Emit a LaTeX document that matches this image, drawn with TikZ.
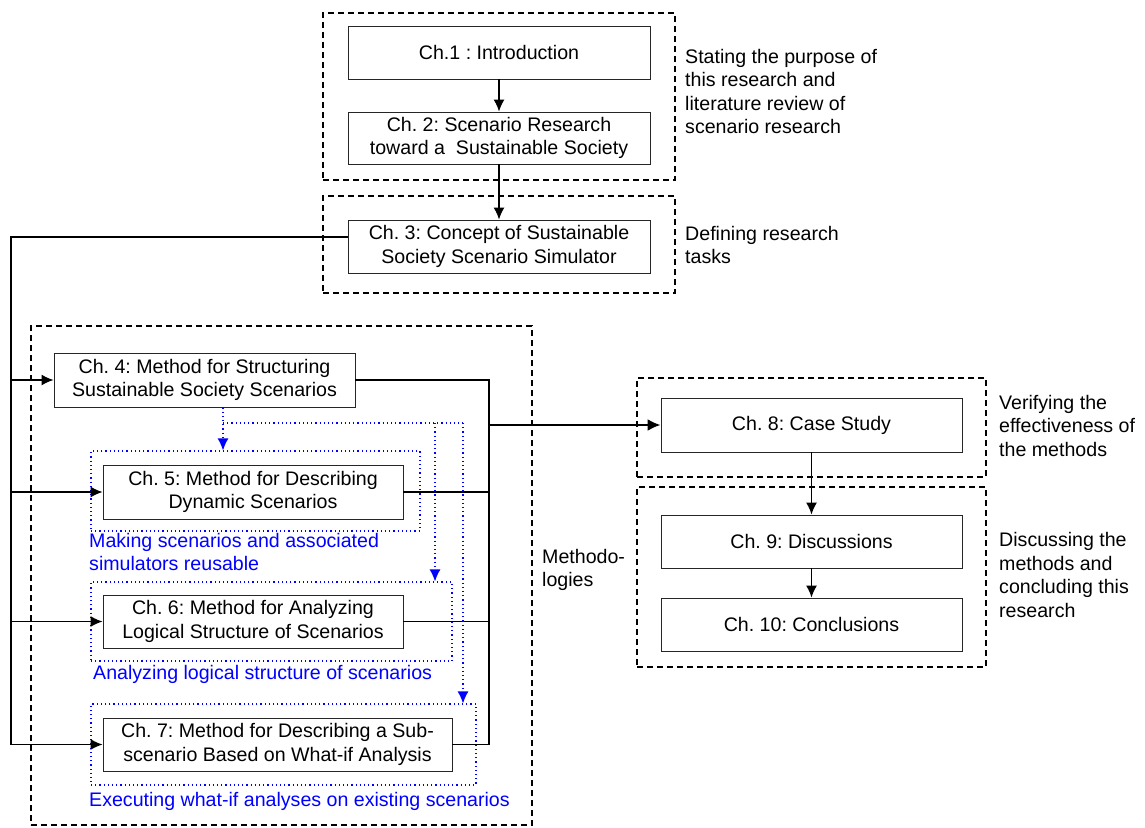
\documentclass[tikz,border=0pt]{standalone}
\usepackage{fontspec}
\setmainfont{Liberation Sans}
\usepackage{tikz}
\usetikzlibrary{arrows.meta,calc}
\frenchspacing
\tikzset{chapter/.style={draw=black!85, line width=0.8pt, minimum width=302pt, minimum height=53pt, align=center, inner sep=2pt}}
\tikzset{group/.style={draw, line width=1.3pt, dash pattern=on 6pt off 4pt, inner sep=0pt}}
\tikzset{reusebox/.style={draw=blue, line width=1.2pt, dash pattern=on 1.2pt off 3pt, inner sep=0pt}}
\tikzset{note/.style={align=left, inner sep=0pt, anchor=west}}
\tikzset{bluenote/.style={note, text=blue}}
\tikzset{edge/.style={line width=1.6pt}}
\tikzset{arc/.style={edge, -{Latex[length=12pt, width=11pt]}}}
\tikzset{fatarc/.style={line width=2.4pt, -{Latex[length=13pt, width=12pt]}}}
\tikzset{reuse/.style={blue, line width=1.2pt, dash pattern=on 1.2pt off 3pt}}
\tikzset{reusearc/.style={reuse, -{Latex[length=12pt, width=11pt]}}}

\begin{document}
\begin{tikzpicture}[x=1pt, y=-1pt, font=\fontsize{19.6}{23.5}\selectfont]
%chapter structure of the thesis: background, methodologies, verification
\useasboundingbox (0,0) rectangle (1145,827);
\node (g1) at (499,96.5)[group, minimum width=352pt, minimum height=167pt]{};
\node (g2) at (499,244.5)[group, minimum width=352pt, minimum height=97pt]{};
\node (g3) at (281.5,575.5)[group, minimum width=501pt, minimum height=499pt]{};
\node (g4) at (811.5,427.5)[group, minimum width=349pt, minimum height=99pt]{};
\node (g5) at (811.5,577)[group, minimum width=349pt, minimum height=180pt]{};
\node (d5) at (255.5,491)[reusebox, minimum width=329pt, minimum height=80pt]{};
\node (d6) at (271.5,621.5)[reusebox, minimum width=361pt, minimum height=79pt]{};
\node (d7) at (283.5,744.5)[reusebox, minimum width=385pt, minimum height=81pt]{};

\node (ch1) at (499,52.5)[chapter]{Ch.1 : Introduction};
\node (ch2) at (499,138)[chapter, minimum height=52pt]{Ch. 2: Scenario Research\\toward a~ Sustainable Society};
\node (ch3) at (499,246.5)[chapter]{Ch. 3: Concept of Sustainable\\Society Scenario Simulator};
\node (ch4) at (204.5,380)[chapter, minimum width=301pt, minimum height=54pt]{Ch. 4: Method for Structuring\\Sustainable Society Scenarios};
\node (ch5) at (253,492)[chapter, minimum width=300pt, minimum height=54pt]{Ch. 5: Method for Describing\\Dynamic Scenarios};
\node (ch6) at (253,621.5)[chapter, minimum width=300pt]{Ch. 6: Method for Analyzing\\Logical Structure of Scenarios};
\node (ch7) at (277.5,744.5)[chapter, minimum width=349pt]{Ch. 7: Method for Describing a Sub-\\scenario Based on What-if Analysis};
\node (ch8) at (811.5,425)[chapter, minimum width=301pt, minimum height=54pt]{Ch. 8: Case Study};
\node (ch9) at (811.5,541.5)[chapter, minimum width=301pt]{Ch. 9: Discussions};
\node (ch10) at (811.5,624.5)[chapter, minimum width=301pt]{Ch. 10: Conclusions};

\node (n1) at (685,91.5)[note]{Stating the purpose of\\this research and\\literature review of\\scenario research};
\node (n2) at (685,245)[note]{Defining research\\tasks};
\node (n3) at (542,570)[note]{Methodo-\\logies};
\node (n4) at (999,425.5)[note]{Verifying the\\effectiveness of\\the methods};
\node (n5) at (999,575)[note]{Discussing the\\methods and\\concluding this\\research};
\node (b5) at (89,552)[bluenote]{Making scenarios and associated\\simulators reusable};
\node (b6) at (93,674)[bluenote]{Analyzing logical structure of scenarios};
\node (b7) at (89,801)[bluenote]{Executing what-if analyses on existing scenarios};

\draw[arc] (ch1)--(ch2);
\draw[arc] (ch2)--(ch3);
\draw[arc] (ch8)--(ch9);
\draw[arc] (ch9)--(ch10);

\coordinate (lbus) at (11,237);
\draw[edge] (ch3.west |- lbus)--(lbus)--(lbus |- ch7.west);
\draw[arc] (lbus |- ch4.west)--(ch4.west);
\draw[arc] (lbus |- ch5.west)--(ch5.west);
\draw[arc] (lbus |- ch6.west)--(ch6.west);
\draw[arc] (lbus |- ch7.west)--(ch7.west);

\coordinate (rbus) at (489,380);
\draw[edge] (ch4.east)--(rbus |- ch4.east)--(rbus |- ch7.east)--(ch7.east);
\draw[edge] (ch5.east)--(rbus |- ch5.east);
\draw[edge] (ch6.east)--(rbus |- ch6.east);
\draw[fatarc] (rbus |- ch8.west)--(ch8.west);

\coordinate (fork) at (223,423);
\coordinate (fork6) at (435,423);
\coordinate (fork7) at (463,423);
\draw[reuse] (fork)--(fork7);
\draw[reusearc] (fork |- ch4.south)--(fork |- d5.north);
\draw[reusearc] (fork6)--(fork6 |- d6.north);
\draw[reusearc] (fork7)--(fork7 |- d7.north);
\end{tikzpicture}
\end{document}
